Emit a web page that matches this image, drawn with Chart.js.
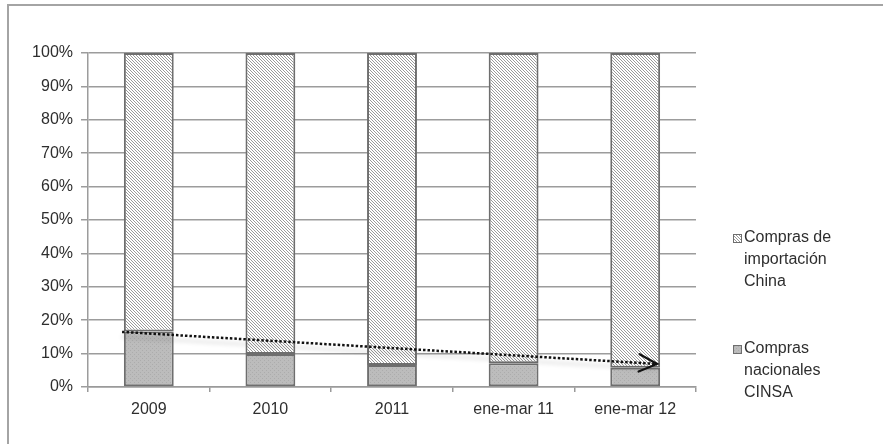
<!DOCTYPE html>
<html>
<head>
<meta charset="utf-8">
<script src="https://cdn.jsdelivr.net/npm/chart.js@4/dist/chart.umd.min.js"></script>
<style>
  html, body { margin: 0; padding: 0; background: #fff; }
  #wrap { width: 883px; height: 444px; position: relative; }
</style>
</head>
<body>
<div id="wrap"><canvas id="c" width="883" height="444"></canvas></div>
<script>
// Share of purchases by origin (percent of total)
const categories = ['2009', '2010', '2011', 'ene-mar 11', 'ene-mar 12'];
const comprasNacionales = [16.6, 9.9, 6.6, 7.1, 5.8];
const comprasImportacion = [83.4, 90.1, 93.4, 92.9, 94.2];
const yTickValues = [0, 10, 20, 30, 40, 50, 60, 70, 80, 90, 100];

// Downward tendency arrow: category-index positions and percent values
const trendPositions = [-0.22, 4.18];
const trendValues = [16.5, 6.9];

const legendLabels = [
  ['Compras de', 'importación', 'China'],
  ['Compras', 'nacionales', 'CINSA']
];

const FONT = '"Liberation Sans", Arial, sans-serif';
const TEXT = '#2e2e2e';

function hatchPattern() {
  const c = document.createElement('canvas');
  c.width = c.height = 3;
  const g = c.getContext('2d');
  g.fillStyle = '#ffffff';
  g.fillRect(0, 0, 3, 3);
  g.fillStyle = '#9a9a9a';
  for (let i = 0; i < 3; i++) g.fillRect(i, i, 1, 1);
  return g.createPattern(c, 'repeat');
}

function speckPattern() {
  const c = document.createElement('canvas');
  c.width = c.height = 4;
  const g = c.getContext('2d');
  g.fillStyle = '#bcbcbc';
  g.fillRect(0, 0, 4, 4);
  g.fillStyle = '#acacac';
  g.fillRect(0, 0, 1, 1);
  g.fillRect(2, 2, 1, 1);
  return g.createPattern(c, 'repeat');
}

const hatch = hatchPattern();
const speck = speckPattern();

const trendPlugin = {
  id: 'trendArrow',
  beforeDatasetDraw(chart, args) {
    if (chart.data.datasets[args.index].id !== 'trend') return;
    const ctx = chart.ctx;
    ctx.save();
    ctx.shadowColor = 'rgba(0,0,0,0.22)';
    ctx.shadowBlur = 4;
    ctx.shadowOffsetY = 5;
  },
  afterDatasetDraw(chart, args) {
    if (chart.data.datasets[args.index].id !== 'trend') return;
    const ctx = chart.ctx;
    ctx.restore();
    const pts = args.meta.data;
    const a = pts[pts.length - 2], b = pts[pts.length - 1];
    const ang = Math.atan2(b.y - a.y, b.x - a.x);
    const len = 20, spread = 0.45;
    ctx.save();
    ctx.strokeStyle = '#111';
    ctx.lineWidth = 2.2;
    ctx.lineCap = 'round';
    ctx.beginPath();
    ctx.moveTo(b.x - len * Math.cos(ang - spread), b.y - len * Math.sin(ang - spread));
    ctx.lineTo(b.x, b.y);
    ctx.lineTo(b.x - len * Math.cos(ang + spread), b.y - len * Math.sin(ang + spread));
    ctx.stroke();
    ctx.restore();
  }
};

const framePlugin = {
  id: 'frameAndLegend',
  afterDraw(chart) {
    const ctx = chart.ctx;
    ctx.save();
    // outer frame (top and left edges)
    ctx.strokeStyle = '#a4a4a4';
    ctx.lineWidth = 2;
    ctx.beginPath();
    ctx.moveTo(8, 444);
    ctx.lineTo(8, 5);
    ctx.lineTo(883, 5);
    ctx.stroke();

    // legend, series listed top to bottom in reverse stacking order
    const fills = [hatch, speck];
    const tops = [238, 349];
    ctx.font = '16px ' + FONT;
    ctx.textBaseline = 'middle';
    ctx.textAlign = 'left';
    legendLabels.forEach((lines, i) => {
      const y0 = tops[i];
      ctx.fillStyle = fills[i];
      ctx.fillRect(733, y0 - 4, 8, 8);
      ctx.strokeStyle = '#6e6e6e';
      ctx.lineWidth = 1;
      ctx.strokeRect(733.5, y0 - 3.5, 8, 8);
      ctx.fillStyle = TEXT;
      lines.forEach((t, k) => ctx.fillText(t, 744, y0 + k * 22));
    });
    ctx.restore();
  }
};

const barStyle = {
  type: 'bar',
  borderColor: '#6e6e6e',
  borderWidth: 2,
  borderSkipped: false,
  grouped: false,
  barPercentage: 0.41,
  categoryPercentage: 1,
  order: 2
};

new Chart(document.getElementById('c'), {
  data: {
    labels: categories,
    datasets: [
      Object.assign({}, barStyle, {
        label: 'Compras nacionales CINSA',
        data: comprasNacionales,
        backgroundColor: speck
      }),
      Object.assign({}, barStyle, {
        label: 'Compras de importación China',
        data: comprasImportacion,
        backgroundColor: hatch
      }),
      {
        id: 'trend',
        type: 'line',
        label: 'Tendencia',
        data: trendPositions.map((x, i) => ({ x: x, y: trendValues[i] })),
        xAxisID: 'xt',
        yAxisID: 'yt',
        borderColor: '#111',
        borderWidth: 2.5,
        borderDash: [2.5, 2],
        pointRadius: 0,
        fill: false,
        order: 0
      }
    ]
  },
  options: {
    responsive: false,
    animation: false,
    devicePixelRatio: 1,
    layout: { padding: { left: 10, top: 53, right: 187, bottom: 0 } },
    plugins: { legend: { display: false }, tooltip: { enabled: false } },
    scales: {
      x: {
        type: 'category',
        stacked: true,
        offset: true,
        grid: {
          display: true,
          offset: true,
          drawOnChartArea: false,
          drawTicks: true,
          tickLength: 5,
          color: '#9a9a9a',
          lineWidth: 1.5
        },
        border: { display: true, color: '#9a9a9a', width: 1.5 },
        ticks: { color: TEXT, font: { family: FONT, size: 16 }, padding: 8, maxRotation: 0 },
        afterFit(s) { s.height = 57; }
      },
      y: {
        type: 'linear',
        stacked: true,
        min: 0,
        max: 100,
        afterBuildTicks(s) { s.ticks = yTickValues.map(v => ({ value: v })); },
        grid: {
          color: '#9c9c9c',
          lineWidth: 1.5,
          tickLength: 7,
          drawTicks: true
        },
        border: { display: true, color: '#9c9c9c', width: 1.5 },
        ticks: {
          color: TEXT,
          font: { family: FONT, size: 16 },
          padding: 8,
          callback: v => v + '%'
        },
        afterFit(s) { s.width = 78; }
      },
      xt: { type: 'linear', display: false, min: -0.5, max: 4.5 },
      yt: { type: 'linear', display: false, min: 0, max: 100 }
    }
  },
  plugins: [trendPlugin, framePlugin]
});
</script>
</body>
</html>
